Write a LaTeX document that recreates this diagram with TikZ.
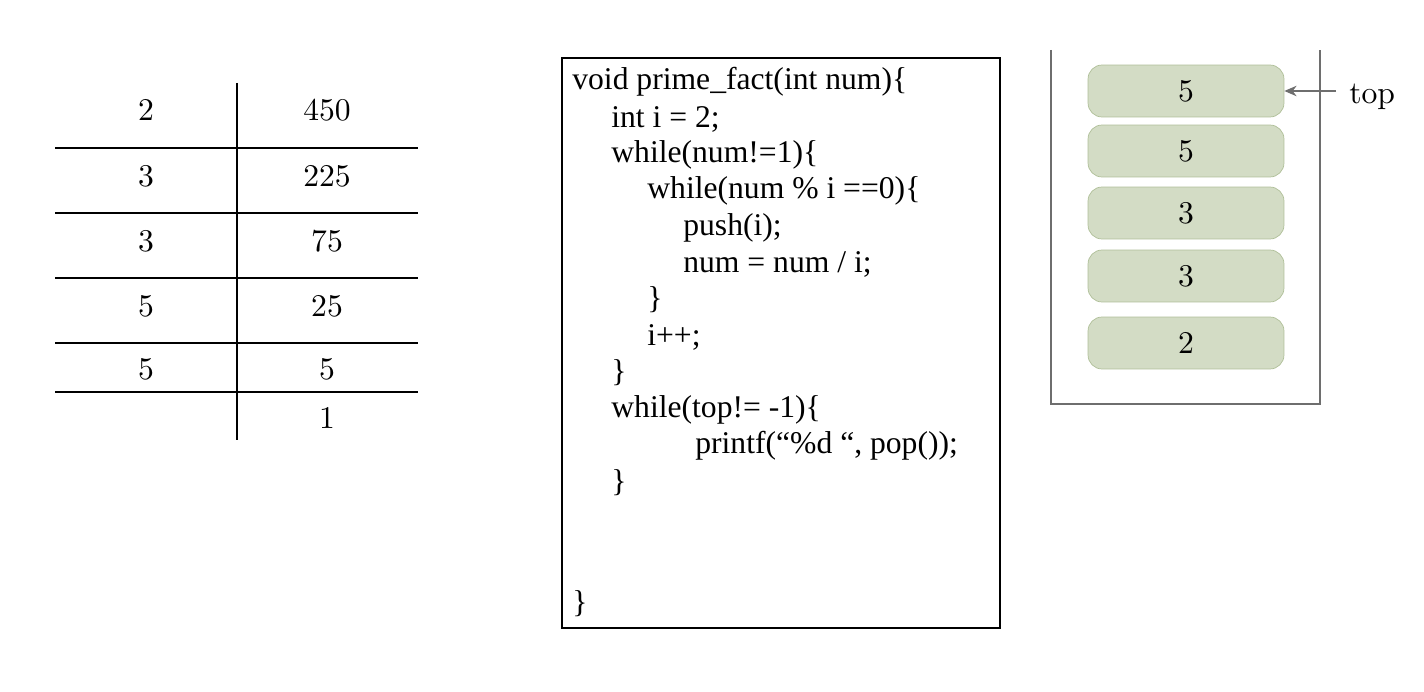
\documentclass[tikz,border=0pt]{standalone}
\usepackage{fontspec}
\newfontfamily\codefont{Liberation Serif}
\newfontfamily\numfont{lmroman10-regular}[Extension=.otf]
\usetikzlibrary{arrows.meta}
\definecolor{boxfill}{HTML}{D3DCC5}
\definecolor{boxline}{HTML}{AFBF98}
\definecolor{wallgray}{HTML}{6E6E6E}

\begin{document}
\begin{tikzpicture}[x=0.02cm,y=-0.02cm,
    num/.style={font=\numfont\fontsize{18}{21}\selectfont},
    codeline/.style={anchor=west,inner sep=0pt,font=\codefont\fontsize{18}{21}\selectfont},
    stackbox/.style={draw=boxline,fill=boxfill,rounded corners=8pt,minimum width=3.92cm,minimum height=1.04cm,font=\numfont\fontsize{18}{21}\selectfont}]

    % Page frame
    \useasboundingbox (0,0) rectangle (1424,692);

    % Division table lines
    \draw[line width=1pt] (237,83)--(237,440);
    \foreach \y in {148,213,278,343,392}
        \draw[line width=1pt] (55,\y)--(418,\y);

    % Divisors and quotients
    \foreach \y/\d/\q [count=\i] in {110/2/450,176/3/225,241/3/75,306/5/25,369/5/5}{
        \node[num] (d\i) at (146,\y) {\d};
        \node[num] (q\i) at (327,\y) {\q};
    }
    \node[num] (q6) at (327,418) {1};

    % Code box
    \draw[line width=0.8pt] (562,58) rectangle (1000,628);
    \node[codeline] (c1) at (572,82) {void prime\_fact(int num)\{};
    \node[codeline] (c2) at (611,119) {int i = 2;};
    \node[codeline] (c3) at (611,155) {while(num!=1)\{};
    \node[codeline] (c4) at (647,191) {while(num \% i ==0)\{};
    \node[codeline] (c5) at (683,228) {push(i);};
    \node[codeline] (c6) at (683,264) {num = num / i;};
    \node[codeline] (c7) at (647,300) {\}};
    \node[codeline] (c8) at (647,337) {i++;};
    \node[codeline] (c9) at (611,373) {\}};
    \node[codeline] (c10) at (611,410) {while(top!= -1)\{};
    \node[codeline] (c11) at (695,446) {printf(“\%d “, pop());};
    \node[codeline] (c12) at (611,483) {\}};
    \node[codeline] (c13) at (572,604) {\}};

    % Stack container (open at the top)
    \draw[wallgray,line width=1pt] (1051,50)--(1051,404)--(1320,404)--(1320,50);

    % Stack elements
    \foreach \y/\v [count=\i] in {91/5,151/5,213/3,276/3,343/2}
        \node[stackbox] (s\i) at (1186,\y) {\v};

    % Top pointer
    \node[anchor=west,font=\numfont\fontsize{18}{21}\selectfont,inner sep=0pt] (toplabel) at (1349,97) {top};
    \coordinate (topstart) at (1336,91);
    \draw[wallgray,line width=0.8pt,-{Stealth[length=7pt,width=6pt]}] (topstart)--(s1.east);

\end{tikzpicture}
\end{document}
